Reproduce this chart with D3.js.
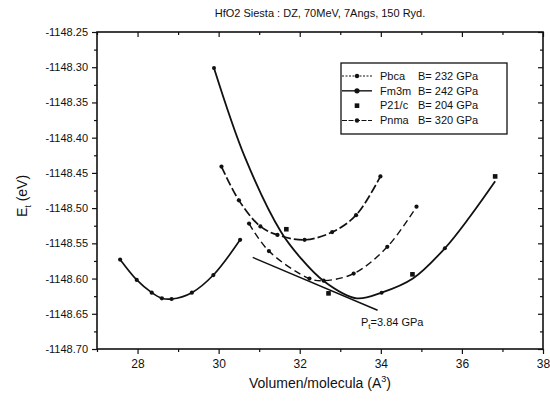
<!DOCTYPE html>
<html>
<head>
<meta charset="utf-8">
<script src="https://cdn.jsdelivr.net/npm/d3@7"></script>
<style>
  body { margin: 0; background: #fff; }
  text { font-family: "Liberation Sans", Arial, sans-serif; fill: #111; }
</style>
</head>
<body>
<div id="chart-area"></div>
<script>

var width = 550,
    height = 402;

// data (volume A^3 / energy eV)
var pnmaV = [27.57, 27.98, 28.35, 28.60, 28.84, 29.34, 29.87, 30.53];
var pnmaE = [-1148.573, -1148.602, -1148.620, -1148.628, -1148.629, -1148.620, -1148.595, -1148.545];

var pbcaV = [30.07, 30.50, 31.03, 31.45, 32.12, 32.80, 33.39, 33.99];
var pbcaE = [-1148.441, -1148.489, -1148.526, -1148.538, -1148.545, -1148.534, -1148.510, -1148.455];

var fm3mV = [30.75, 31.24, 32.24, 32.59, 33.33, 34.16, 34.88];
var fm3mE = [-1148.522, -1148.561, -1148.600, -1148.603, -1148.593, -1148.555, -1148.498];

// steep solid curve + its computed points
var fitV = [29.885, 30.65, 31.54, 32.01, 32.58, 33.40, 34.02, 34.79, 35.58, 36.20, 36.82];
var fitE = [-1148.301, -1148.428, -1148.534, -1148.570, -1148.603, -1148.628, -1148.620, -1148.600, -1148.557, -1148.512, -1148.462];
var fitPtV = [29.885, 34.02, 35.58];
var fitPtE = [-1148.301, -1148.620, -1148.557];

// P21/c points
var p21cV = [31.67, 32.71, 34.78, 36.82];
var p21cE = [-1148.530, -1148.621, -1148.594, -1148.455];

// common tangent
var tanV = [30.84, 33.92];
var tanE = [-1148.570, -1148.645];

var xTicks = [28, 30, 32, 34, 36, 38];
var xMinor = [27, 29, 31, 33, 35, 37];
var yTicks = [-1148.25, -1148.30, -1148.35, -1148.40, -1148.45, -1148.50, -1148.55, -1148.60, -1148.65, -1148.70];
var yMinor = [-1148.275, -1148.325, -1148.375, -1148.425, -1148.475, -1148.525, -1148.575, -1148.625, -1148.675];

var legendNames = ["Pbca", "Fm3m", "P21/c", "Pnma"];
var legendB = ["B= 232 GPa", "B= 242 GPa", "B= 204 GPa", "B= 320 GPa"];

var svg = d3.select("#chart-area").append("svg")
    .attr("width", width)
    .attr("height", height);

var x = d3.scaleLinear().domain([27, 38]).range([97, 543]);
var y = d3.scaleLinear().domain([-1148.70, -1148.25]).range([349, 32]);

// axes
var fmt = d => d3.format(".2f")(d).replace("\u2212", "-");
var axBottom = svg.append("g").attr("transform", "translate(0,349)")
    .call(d3.axisBottom(x).tickValues(xTicks).tickSize(5).tickFormat(d3.format("d")));
svg.append("g").attr("transform", "translate(0,349)")
    .call(d3.axisBottom(x).tickValues(xMinor).tickSize(3).tickFormat(""));
var axLeft = svg.append("g").attr("transform", "translate(97,0)")
    .call(d3.axisLeft(y).tickValues(yTicks).tickSize(5).tickFormat(fmt));
svg.append("g").attr("transform", "translate(97,0)")
    .call(d3.axisLeft(y).tickValues(yMinor).tickSize(3).tickFormat(""));
// inner ticks top/right
svg.append("g").attr("transform", "translate(0,32)")
    .call(d3.axisBottom(x).tickValues(xTicks).tickSize(5).tickFormat(""));
svg.append("g").attr("transform", "translate(0,32)")
    .call(d3.axisBottom(x).tickValues(xMinor).tickSize(3).tickFormat(""));
svg.append("g").attr("transform", "translate(543,0)")
    .call(d3.axisLeft(y).tickValues(yTicks).tickSize(5).tickFormat(""));
svg.append("g").attr("transform", "translate(543,0)")
    .call(d3.axisLeft(y).tickValues(yMinor).tickSize(3).tickFormat(""));

svg.selectAll(".domain").remove();
svg.selectAll(".tick line").attr("stroke", "#111").attr("stroke-width", 1.2);
axBottom.selectAll("text").attr("font-size", 12).attr("dy", "0.9em");
axLeft.selectAll("text").attr("font-size", 11).attr("dx", "-1px");

svg.append("rect")
    .attr("x", 97).attr("y", 32)
    .attr("width", 446).attr("height", 317)
    .attr("fill", "none").attr("stroke", "#111").attr("stroke-width", 1.6);

// lines
var line = d3.line()
    .x(d => x(d[0]))
    .y(d => y(d[1]))
    .curve(d3.curveCatmullRom);

function pairs(a, b) { return a.map((v, i) => [v, b[i]]); }

function drawSeries(vs, es, dash, w, dots) {
  svg.append("path")
      .datum(pairs(vs, es))
      .attr("d", line)
      .attr("fill", "none")
      .attr("stroke", "#111")
      .attr("stroke-width", w)
      .attr("stroke-dasharray", dash);
  if (dots) {
    svg.selectAll(null)
        .data(pairs(vs, es))
        .enter()
        .append("circle")
        .attr("cx", d => x(d[0]))
        .attr("cy", d => y(d[1]))
        .attr("r", 2.1)
        .attr("fill", "#111");
  }
}

drawSeries(pnmaV, pnmaE, null, 1.7, true);
drawSeries(pbcaV, pbcaE, "9,3", 1.7, true);
drawSeries(fm3mV, fm3mE, "7,4", 1.4, true);
drawSeries(fitV, fitE, null, 1.8, false);

svg.selectAll(null)
    .data(pairs(fitPtV, fitPtE))
    .enter()
    .append("circle")
    .attr("cx", d => x(d[0]))
    .attr("cy", d => y(d[1]))
    .attr("r", 2)
    .attr("fill", "#111");

svg.selectAll(null)
    .data(pairs(p21cV, p21cE))
    .enter()
    .append("rect")
    .attr("x", d => x(d[0]) - 2.3)
    .attr("y", d => y(d[1]) - 2.3)
    .attr("width", 4.6).attr("height", 4.6)
    .attr("fill", "#111");

svg.append("path")
    .datum(pairs(tanV, tanE))
    .attr("d", d3.line().x(d => x(d[0])).y(d => y(d[1])))
    .attr("stroke", "#111")
    .attr("stroke-width", 1.4);

var pt = svg.append("text").attr("x", 361).attr("y", 326).attr("font-size", 11);
pt.append("tspan").text("P");
pt.append("tspan").attr("font-size", 8).attr("dy", 3).text("t");
pt.append("tspan").attr("dy", -3).text("=3.84 GPa");

// legend
var lg = svg.append("g");
lg.append("rect")
    .attr("x", 341).attr("y", 63)
    .attr("width", 166).attr("height", 71)
    .attr("fill", "#fff").attr("stroke", "#111").attr("stroke-width", 1.3);

var rowY = d3.scalePoint().domain(legendNames).range([76, 120.5]);
var legDash = ["2,1.5", null, null, "5,1.5"];
legendNames.forEach(function(n, i) {
  var yy = rowY(n);
  if (i != 2) {
    lg.append("line")
        .attr("x1", 342).attr("x2", 372)
        .attr("y1", yy).attr("y2", yy)
        .attr("stroke", "#111").attr("stroke-width", i == 1 ? 1.4 : 1)
        .attr("stroke-dasharray", legDash[i]);
    lg.append("circle").attr("cx", 357).attr("cy", yy).attr("r", i == 1 ? 2.6 : 2.2).attr("fill", "#111");
  } else {
    lg.append("rect").attr("x", 354.7).attr("y", yy - 2.3).attr("width", 4.6).attr("height", 4.6).attr("fill", "#111");
  }
  lg.append("text").attr("x", 380).attr("y", yy + 3.8).attr("font-size", 11).text(n);
  lg.append("text").attr("x", 418).attr("y", yy + 3.8).attr("font-size", 11).text(legendB[i]);
});

// titles
svg.append("text")
    .attr("x", 320).attr("y", 17)
    .attr("text-anchor", "middle")
    .attr("font-size", 11)
    .text("HfO2  Siesta : DZ, 70MeV, 7Angs, 150 Ryd.");

var xl = svg.append("text")
    .attr("x", 320).attr("y", 388)
    .attr("text-anchor", "middle")
    .attr("font-size", 14);
xl.append("tspan").text("Volumen/molecula (A");
xl.append("tspan").attr("font-size", 9).attr("dy", -6).text("3");
xl.append("tspan").attr("dy", 6).text(")");

var yl = svg.append("text")
    .attr("transform", "translate(27,196) rotate(-90)")
    .attr("text-anchor", "middle")
    .attr("font-size", 14);
yl.append("tspan").text("E");
yl.append("tspan").attr("font-size", 9).attr("dy", 4).text("t");
yl.append("tspan").attr("dy", -4).text(" (eV)");

</script>
</body>
</html>
